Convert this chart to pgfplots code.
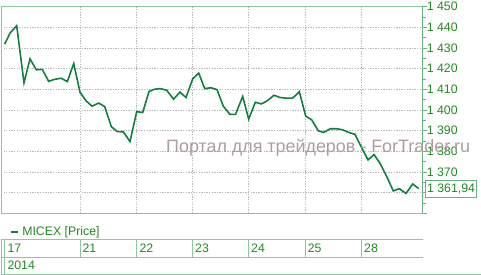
\documentclass[border=0pt]{standalone}
\usepackage{fontspec}
\setmainfont{Liberation Sans}
\usepackage{pgfplots}
\pgfplotsset{compat=1.18}
\definecolor{linegreen}{RGB}{16,128,64}
\definecolor{framegreen}{RGB}{140,200,160}
\definecolor{axisgreen}{RGB}{100,180,130}
\definecolor{textgreen}{RGB}{30,140,30}
\definecolor{wmark}{RGB}{175,155,158}
\definecolor{gridgray}{RGB}{185,185,185}
\begin{document}
\begin{tikzpicture}[x=1pt,y=1pt]
\useasboundingbox (0,0) rectangle (481,275);
\begin{axis}[
  at={(1pt,61.7pt)}, anchor=south west,
  scale only axis, width=421.7pt, height=206.8pt,
  xmin=1, xmax=422.7, ymin=1350, ymax=1450,
  axis line style={framegreen, line width=0.8pt},
  xtick={80,136.7,192.7,248.7,305.7,361.7},
  xticklabels={},
  xtick style={draw=none},
  ytick={1350,1360,1370,1380,1390,1400,1410,1420,1430,1440,1450},
  yticklabels={,,1 370,1 380,1 390,1 400,1 410,1 420,1 430,1 440,1 450},
  minor ytick={1355,1365,1375,1385,1395,1405,1415,1425,1435,1445},
  ytick pos=right, yticklabel pos=right,
  tick align=outside,
  major tick length=4pt, minor tick length=3pt,
  ytick style={axisgreen, line width=0.6pt},
  minor tick style={axisgreen, line width=0.6pt},
  yticklabel style={textgreen, font=\fontsize{12.3}{13}\selectfont, anchor=west, inner sep=0pt, xshift=0pt},
  grid=major,
  major grid style={gridgray, line width=0.5pt, dash pattern=on 1.3pt off 1.3pt},
  legend style={at={(rel axis cs:0,0)}, anchor=north west, xshift=8.7pt, yshift=-11pt, draw=none, fill=none,
    font=\fontsize{12.3}{13}\selectfont, text=textgreen, inner sep=0pt, legend cell align=left,
    nodes={inner xsep=3.5pt}},
  legend image code/.code={\draw[#1, line width=1.6pt] (0pt,0pt) -- (7.3pt,0pt);},
  clip=false,
]
\addplot[linegreen, line width=1.6pt] coordinates {
(4.7,1431.8) (10,1437.1) (16.7,1440.7) (24,1413.1) (30,1424.7) (36.3,1419.4)
(42.3,1419.6) (48.7,1413.8) (54.7,1414.8) (61,1415.3) (67.3,1413.7) (73.7,1422.4)
(80,1408.6) (86,1404.4) (92,1401.8) (98.7,1403.3) (104.7,1401.6) (111.3,1391.9)
(117.3,1389.5) (123.3,1389.4) (130,1384.7) (136.7,1399.2) (142.7,1398.7) (149,1408.9)
(154.5,1410.0) (160.5,1410.3) (166.7,1409.5) (173.5,1405.2) (180,1408.6) (186,1406.0)
(192.7,1415.0) (198.7,1417.8) (204.7,1410.3) (211,1410.7) (217,1409.8) (223.3,1401.8)
(229.7,1397.9) (235.5,1397.8) (242.7,1406.5) (248.7,1395.5) (255.3,1403.7) (261.3,1402.9)
(267.3,1404.4) (274,1407.1) (280,1406.0) (286.3,1405.7) (292.7,1405.7) (299.3,1408.8)
(305.7,1397.0) (311.7,1395.2) (318.3,1389.9) (323.7,1389.1) (330.3,1390.9) (336.7,1390.9)
(342.3,1390.4) (348.7,1389.1) (355,1388.2) (361.3,1382.1) (368,1375.8) (374,1378.4)
(380,1374.2) (386.7,1367.8) (393.3,1360.8) (399.3,1361.9) (406,1359.6) (412.7,1364.2)
(418.7,1361.94)
};
\addlegendentry{MICEX [Price]}
\draw[axisgreen, line width=0.8pt] (rel axis cs:1,0) -- (rel axis cs:1,1);
\node[anchor=west, draw=axisgreen, fill=white, line width=0.6pt, text=textgreen,
  font=\fontsize{12.3}{13}\selectfont, inner xsep=1.5pt, minimum height=16pt]
  at (axis cs:422.7,1361.94) [xshift=2.6pt] {1 361,94};
\end{axis}
\node[anchor=west, text=wmark, font=\fontsize{17.9}{18}\selectfont, inner sep=0pt] at (166,127.5) {Портал для трейдеров - ForTrader.ru};
% bottom date table
\begin{scope}[framegreen, line width=0.8pt]
\draw (1,35.7) -- (422.7,35.7);
\draw (1,17.3) -- (422.7,17.3);
\draw (1,0.5) -- (481,0.5);
\draw (1,0.5) -- (1,35.7);
\draw (4.7,0.5) -- (4.7,35.7);
\foreach \xx in {80,136.7,192.7,248.7,305.7,361.7} {\draw (\xx,17.3) -- (\xx,35.7);}
\end{scope}
\begin{scope}[every node/.style={anchor=west, text=textgreen, font=\fontsize{12.3}{13}\selectfont, inner sep=0pt}]
\node at (7.3,26.5) {17};
\node at (82.3,26.5) {21};
\node at (139.3,26.5) {22};
\node at (195,26.5) {23};
\node at (251,26.5) {24};
\node at (307.7,26.5) {25};
\node at (364,26.5) {28};
\node at (7.3,9.7) {2014};
\end{scope}
\end{tikzpicture}
\end{document}
